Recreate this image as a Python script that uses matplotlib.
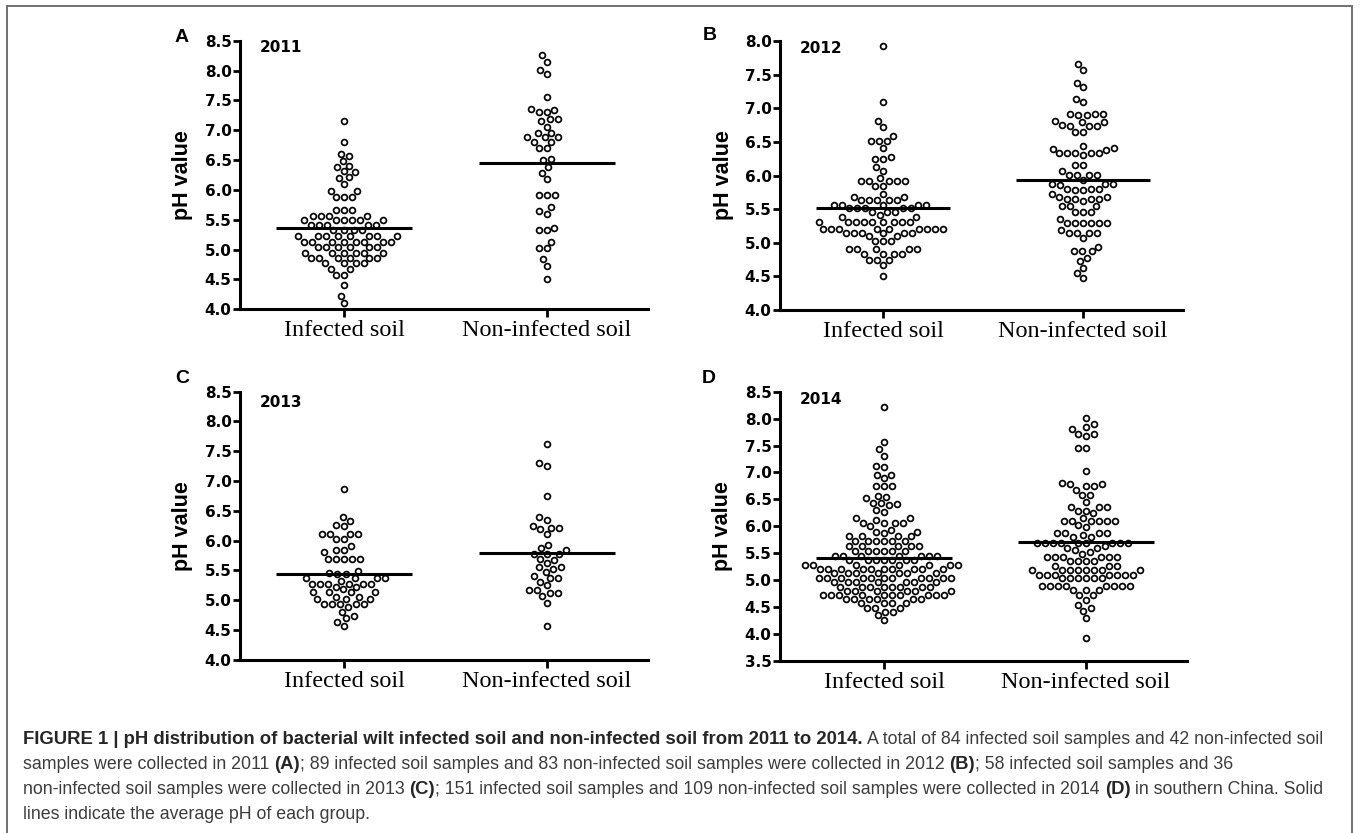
import numpy as np
import matplotlib
matplotlib.use("Agg")
import matplotlib.pyplot as plt
from matplotlib.lines import Line2D

W, H = 1360, 833

categories = ["Infected soil", "Non-infected soil"]
years = ["2011", "2012", "2013", "2014"]
letters = ["A", "B", "C", "D"]

# pH values (one list per group)
ph_2011_inf = [7.15, 6.81, 6.61, 6.57, 6.48, 6.40, 6.39, 6.31, 6.30, 6.21, 6.20, 6.10, 5.99, 5.98,
               5.88, 5.88, 5.88, 5.66, 5.66, 5.66, 5.56, 5.56, 5.56, 5.56,
               5.49, 5.49, 5.49, 5.49, 5.49, 5.49, 5.42, 5.42, 5.42, 5.42, 5.42,
               5.33, 5.33, 5.33, 5.33, 5.22, 5.22, 5.22, 5.22, 5.22, 5.22, 5.22, 5.22,
               5.13, 5.13, 5.13, 5.13, 5.13, 5.13, 5.13, 5.13, 5.04, 5.04, 5.04, 5.04, 5.04, 5.04,
               4.95, 4.95, 4.95, 4.95, 4.95, 4.95, 4.86, 4.86, 4.86, 4.86, 4.86, 4.86,
               4.77, 4.77, 4.77, 4.77, 4.68, 4.68, 4.58, 4.58, 4.41, 4.23, 4.11]
ph_2011_non = [8.26, 8.15, 8.01, 7.94, 7.55, 7.35, 7.34, 7.30, 7.30, 7.18, 7.18, 7.16, 7.06,
               6.95, 6.95, 6.88, 6.88, 6.88, 6.81, 6.81, 6.70, 6.70, 6.51, 6.50, 6.39, 6.29, 6.18,
               5.91, 5.91, 5.91, 5.71, 5.64, 5.60, 5.37, 5.33, 5.33, 5.13, 5.02, 5.02, 4.84, 4.72, 4.50]

ph_2012_inf = [7.93, 7.09, 6.81, 6.72, 6.59, 6.51, 6.51, 6.51, 6.41,
               6.27, 6.24, 6.24, 6.12, 6.07, 5.96, 5.92, 5.92, 5.92, 5.92, 5.92, 5.85, 5.85,
               5.73, 5.68, 5.68, 5.64, 5.64, 5.64, 5.64, 5.64, 5.56, 5.56, 5.56, 5.56, 5.56,
               5.51, 5.51, 5.51, 5.51, 5.51, 5.46, 5.46, 5.46, 5.42, 5.38, 5.38,
               5.31, 5.31, 5.31, 5.31, 5.31, 5.31, 5.31, 5.31, 5.31,
               5.21, 5.21, 5.21, 5.21, 5.21, 5.21, 5.21, 5.21, 5.21,
               5.14, 5.14, 5.14, 5.14, 5.14, 5.14, 5.10, 5.10, 5.02, 5.02, 5.02,
               4.90, 4.90, 4.90, 4.90, 4.90, 4.84, 4.84, 4.84, 4.84, 4.75, 4.75, 4.75, 4.67, 4.51]
ph_2012_non = [7.66, 7.57, 7.38, 7.31, 7.14, 7.09, 6.92, 6.91, 6.91, 6.90, 6.90,
               6.81, 6.80, 6.80, 6.75, 6.74, 6.74, 6.73, 6.65, 6.65,
               6.44, 6.41, 6.40, 6.38, 6.34, 6.34, 6.34, 6.34, 6.34, 6.30,
               6.15, 6.15, 6.07, 6.01, 6.01, 6.01, 6.01, 5.94,
               5.88, 5.88, 5.88, 5.86, 5.80, 5.80, 5.80, 5.78, 5.78,
               5.73, 5.68, 5.68, 5.65, 5.65, 5.65, 5.65, 5.62,
               5.54, 5.54, 5.54, 5.45, 5.45, 5.45, 5.35,
               5.29, 5.29, 5.29, 5.29, 5.29, 5.29, 5.19, 5.14, 5.14, 5.14, 5.14, 5.07,
               4.94, 4.88, 4.88, 4.87, 4.78, 4.73, 4.62, 4.55, 4.48]

ph_2013_inf = [6.86, 6.40, 6.33, 6.27, 6.24, 6.11, 6.11, 6.11, 6.11, 6.02, 6.02, 5.91, 5.84, 5.84, 5.81,
               5.70, 5.70, 5.70, 5.70, 5.70, 5.49, 5.46, 5.44, 5.44, 5.37, 5.37, 5.37, 5.37, 5.33,
               5.28, 5.28, 5.28, 5.28, 5.28, 5.28, 5.23, 5.23, 5.18, 5.13, 5.13, 5.13, 5.13,
               5.06, 5.06, 5.02, 5.02, 5.02, 4.94, 4.94, 4.94, 4.94, 4.94,
               4.89, 4.81, 4.73, 4.70, 4.64, 4.57]
ph_2013_non = [7.63, 7.30, 7.25, 6.75, 6.40, 6.35, 6.25, 6.22, 6.22, 6.19, 6.11, 5.93, 5.87, 5.84,
               5.78, 5.78, 5.78, 5.69, 5.68, 5.62, 5.56, 5.55, 5.52, 5.48, 5.41, 5.37, 5.37,
               5.31, 5.25, 5.17, 5.17, 5.12, 5.12, 5.07, 4.96, 4.57]

ph_2014_inf = [8.22, 7.56, 7.43, 7.31, 7.12, 7.10, 6.95, 6.95, 6.89, 6.74, 6.74, 6.74,
               6.57, 6.55, 6.52, 6.44, 6.43, 6.41, 6.39, 6.30, 6.27, 6.15, 6.15, 6.11,
               6.07, 6.07, 6.07, 6.07, 6.00, 5.94, 5.90, 5.90, 5.87,
               5.82, 5.82, 5.82, 5.82, 5.72, 5.72, 5.72, 5.72, 5.72, 5.72,
               5.63, 5.63, 5.63, 5.63, 5.63, 5.54, 5.54, 5.54, 5.54, 5.54, 5.54,
               5.45, 5.45, 5.45, 5.45, 5.45, 5.45, 5.45, 5.37, 5.37, 5.37, 5.37, 5.37, 5.37, 5.37,
               5.28, 5.28, 5.28, 5.28, 5.28, 5.28, 5.28,
               5.21, 5.21, 5.21, 5.21, 5.21, 5.21, 5.21, 5.21, 5.21, 5.21,
               5.13, 5.13, 5.13, 5.13, 5.13, 5.13, 5.13,
               5.05, 5.05, 5.05, 5.05, 5.05, 5.05, 5.05, 5.05, 5.05, 5.05, 5.05,
               4.97, 4.97, 4.97, 4.97, 4.97, 4.97, 4.97, 4.88, 4.88, 4.88, 4.88, 4.88, 4.88, 4.88, 4.88,
               4.80, 4.80, 4.80, 4.80, 4.80, 4.80,
               4.73, 4.73, 4.73, 4.73, 4.73, 4.73, 4.73, 4.73, 4.73, 4.73,
               4.65, 4.65, 4.65, 4.65, 4.65, 4.65, 4.58, 4.58, 4.58, 4.58,
               4.49, 4.49, 4.49, 4.41, 4.41, 4.35, 4.26]
ph_2014_non = [8.01, 7.90, 7.85, 7.81, 7.71, 7.71, 7.67, 7.46, 7.46, 7.02,
               6.81, 6.79, 6.79, 6.75, 6.75, 6.68, 6.59, 6.59,
               6.46, 6.35, 6.35, 6.35, 6.29, 6.29, 6.24,
               6.15, 6.10, 6.10, 6.10, 6.10, 6.10, 6.10, 6.02, 5.98,
               5.88, 5.88, 5.87, 5.87, 5.84, 5.81, 5.81,
               5.70, 5.70, 5.70, 5.70, 5.70, 5.70, 5.70, 5.70, 5.70,
               5.63, 5.60, 5.60, 5.56, 5.53, 5.49,
               5.43, 5.43, 5.43, 5.43, 5.43, 5.43, 5.36, 5.36, 5.36, 5.36, 5.26, 5.26, 5.26,
               5.19, 5.19, 5.19, 5.19, 5.19, 5.19, 5.19, 5.19,
               5.10, 5.10, 5.10, 5.10, 5.10, 5.10, 5.10, 5.04, 5.04, 5.04, 5.04, 5.04, 5.04,
               4.89, 4.89, 4.89, 4.89, 4.89, 4.89, 4.89, 4.89, 4.82, 4.82, 4.82,
               4.72, 4.72, 4.64, 4.54, 4.48, 4.43, 4.29, 3.92]

groups = [(ph_2011_inf, ph_2011_non), (ph_2012_inf, ph_2012_non),
          (ph_2013_inf, ph_2013_non), (ph_2014_inf, ph_2014_non)]
ylims = [(4.0, 8.5), (4.0, 8.0), (4.0, 8.5), (3.5, 8.5)]

# layout in pixels: axes box (left, top, right, bottom), letter xy, year xy
boxes = [(240, 40.7, 648, 309.3), (780, 41, 1183, 310),
         (240, 391.7, 648, 659.8), (780, 391.7, 1187, 661)]
letter_xy = [(175, 41.7), (703, 40), (175, 383), (702, 383)]
year_xy = [(260, 51.7), (800, 52.7), (260, 406.7), (800, 404)]

DOT = 8.0  # px between dot centres in the swarm


def fx(px):
    return px / W


def fy(py):
    return 1 - py / H


def swarm(ypix, d):
    # simple beeswarm: put each dot as close to the centre as possible
    xs = np.zeros(len(ypix))
    placed = []
    for i in np.argsort(ypix, kind="stable"):
        y = ypix[i]
        near = [(px, py) for px, py in placed if abs(py - y) < d]
        cands = [0.0]
        for px, py in near:
            dx = np.sqrt(d * d - (py - y) ** 2)
            cands += [px + dx, px - dx]
        cands.sort(key=lambda c: (abs(c), c))
        for c in cands:
            if all((c - px) ** 2 + (y - py) ** 2 >= d * d - 1e-6 for px, py in near):
                xs[i] = c
                break
        placed.append((xs[i], y))
    return xs


fig = plt.figure(figsize=(W / 100, H / 100), dpi=100)

for k in range(4):
    l, t, r, b = boxes[k]
    ax = fig.add_axes([fx(l), fy(b), (r - l) / W, (b - t) / H])
    ax.set_xlim(-0.515, 1.5)
    ax.set_ylim(*ylims[k])
    for s in ["top", "right"]:
        ax.spines[s].set_visible(False)
    for s in ["left", "bottom"]:
        ax.spines[s].set_linewidth(2.2)

    ppu = ax.transData.transform((1, 0))[0] - ax.transData.transform((0, 0))[0]
    for xc, vals in enumerate(groups[k]):
        vals = np.asarray(vals)
        ypix = ax.transData.transform(np.column_stack([np.full(len(vals), xc), vals]))[:, 1]
        xs = xc + swarm(ypix, DOT) / ppu
        ax.plot(xs, vals, ls="none", marker="o", ms=4.2, mew=1.25,
                mfc="none", mec="black", clip_on=False, zorder=2)
        m = vals.mean()
        ax.hlines(m, xc - 0.335, xc + 0.335, color="black", lw=2.2, zorder=3)

    yt = np.arange(ylims[k][0], ylims[k][1] + 0.01, 0.5)
    ax.set_yticks(yt, labels=[f"{v:.1f}" for v in yt], fontsize=11,
                  fontweight="bold", family="DejaVu Sans")
    ax.set_xticks([0, 1], labels=categories, fontsize=17.5, family="Liberation Serif")
    ax.tick_params(axis="y", length=5, width=2, pad=1)
    ax.tick_params(axis="x", length=5.5, width=2, pad=2.5)
    ax.set_ylabel("pH value", fontsize=15.5, fontweight="bold", family="Liberation Sans")
    ax.yaxis.set_label_coords(-0.115, 0.5)

    fig.text(fx(letter_xy[k][0]), fy(letter_xy[k][1]), letters[k], fontsize=14,
             fontweight="bold", family="Liberation Sans", va="baseline")
    fig.text(fx(year_xy[k][0]), fy(year_xy[k][1]), years[k], fontsize=11,
             fontweight="bold", family="DejaVu Sans", va="baseline")

# outer frame
for (x0, y0, x1, y1) in [(7, 6, 1352, 6), (7, 6, 7, 833), (1352, 6, 1352, 833)]:
    fig.add_artist(Line2D([fx(x0), fx(x1)], [fy(y0), fy(y1)], color="#707070", lw=1.4))

# caption, built from bold / normal runs
FS_BOLD = 13.3
FS_NORM = 12.75
caption = [
    [("FIGURE 1 | pH distribution of bacterial wilt infected soil and non-infected soil from 2011 to 2014.", True, False),
     ("A total of 84 infected soil samples and 42 non-infected soil", False, True)],
    [("samples were collected in 2011", False, False), ("(A)", True, True),
     ("; 89 infected soil samples and 83 non-infected soil samples were collected in 2012", False, False),
     ("(B)", True, True), ("; 58 infected soil samples and 36", False, False)],
    [("non-infected soil samples were collected in 2013", False, False), ("(C)", True, True),
     ("; 151 infected soil samples and 109 non-infected soil samples were collected in 2014", False, False),
     ("(D)", True, True), ("in southern China. Solid", False, True)],
    [("lines indicate the average pH of each group.", False, False)],
]
baselines = [744, 769.3, 794.3, 819.3]

renderer = fig.canvas.get_renderer()


def text_width(s):
    t = fig.text(0, 0, s, fontsize=FS_NORM, family="Liberation Sans")
    w = t.get_window_extent(renderer).width
    t.remove()
    return w


space_w = text_width("a a") - text_width("aa")

for line, base in zip(caption, baselines):
    x = 23
    for seg, bold, lead in line:
        if lead:
            x += space_w
        t = fig.text(fx(x), fy(base), seg, fontsize=FS_BOLD if bold else FS_NORM,
                     family="Liberation Sans", fontweight="bold" if bold else "normal",
                     color="#262626" if bold else "#3c3c3c", va="baseline")
        x += t.get_window_extent(renderer).width

fig.savefig("out.png", dpi=100)
